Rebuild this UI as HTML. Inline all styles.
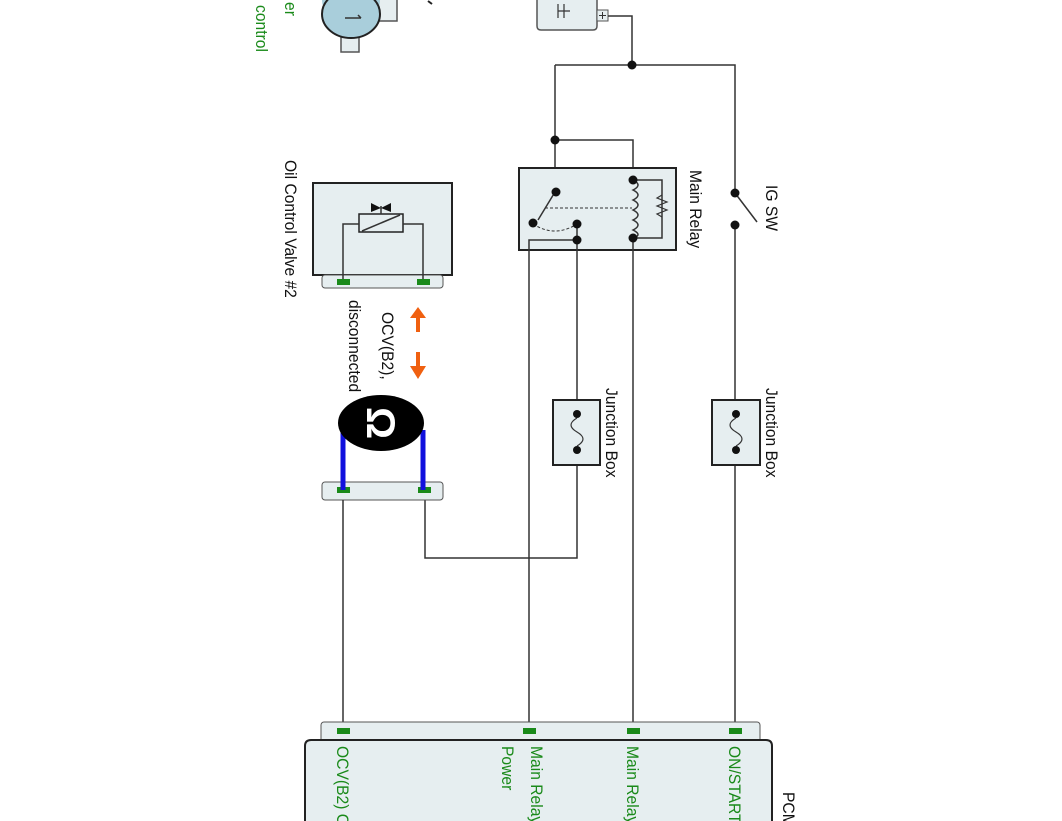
<!DOCTYPE html>
<html><head><meta charset="utf-8"><style>
html,body{margin:0;padding:0;background:#fff;width:1062px;height:821px;overflow:hidden;}
svg{display:block;}
text{font-family:"Liberation Sans",sans-serif;font-size:17px;}
</style></head><body>
<svg width="1062" height="821" viewBox="0 0 1062 821" xmlns="http://www.w3.org/2000/svg" overflow="hidden">
<defs><clipPath id="c"><rect x="0" y="0" width="1062" height="821"/></clipPath></defs>
<g clip-path="url(#c)">
<g stroke="#333" stroke-width="1.5" fill="none">
<path d="M537 0 V26 q0 4 4 4 H593 q4 0 4 -4 V0" fill="#e6eef0" stroke="#555"/>
<path d="M558 4 V18 M564 4 V18 M558 11 H570" stroke="#333" stroke-width="1.2"/>
<rect x="597" y="10" width="11" height="11" fill="#e6eef0" stroke="#555" stroke-width="1"/>
<path d="M599 15.5 H606 M602.5 12 V19" stroke="#333" stroke-width="1"/>
<path d="M608 16 H632 V65"/>
<path d="M555 65 H735 V193"/>
<path d="M555 65 V192"/>
<path d="M555 140 H633 V180"/>
<rect x="519" y="168" width="157" height="82" fill="#e6eef0" stroke="#222" stroke-width="2"/>
<path d="M555 192 L538 220"/>
<path d="M633 180 H662 V238 H633"/>
<path d="M633 180 q10 5 0 10 q10 5 0 10 q10 5 0 10 q10 5 0 10 q10 5 0 10 q10 5 0 8 V238"/>
<path d="M662 195 l-5 3 l10 4 l-10 4 l10 4 l-10 4 l5 3" stroke-width="1.2"/>
<path d="M545 208 H632" stroke-dasharray="3,2" stroke-width="1"/>
<path d="M533 224 Q555 238 577 224" stroke-dasharray="3,2" stroke-width="1"/>
<path d="M529 730 V240 H577 V224"/>
<path d="M633 238 V730"/>
<path d="M577 240 V558 H425 V498"/>
<path d="M735 193 L757 222"/>
<path d="M735 225 V730"/>
<rect x="553" y="400" width="47" height="65" fill="#e6eef0" stroke="#222" stroke-width="2"/>
<rect x="712" y="400" width="48" height="65" fill="#e6eef0" stroke="#222" stroke-width="2"/>
<path d="M577 418 q-12 7 0 14 q12 7 0 14" stroke-width="1.2"/>
<path d="M736 418 q-12 7 0 14 q12 7 0 14" stroke-width="1.2"/>
<rect x="313" y="183" width="139" height="92" fill="#e6eef0" stroke="#222" stroke-width="2"/>
<rect x="322" y="275" width="121" height="13" rx="3" fill="#e6eef0" stroke="#555" stroke-width="1"/>
<rect x="359" y="214" width="44" height="18" fill="#e6eef0" stroke="#222"/>
<path d="M362 231 L400 215"/>
<path d="M359 224 H343 V279 M403 224 H423 V279"/>
<path d="M381 214 V206"/>
<rect x="322" y="482" width="121" height="18" rx="3" fill="#e6eef0" stroke="#555" stroke-width="1"/>
<path d="M343 500 V730"/>
<rect x="321" y="722" width="439" height="22" rx="3" fill="#e6eef0" stroke="#555" stroke-width="1"/>
<path d="M305 821 V746 q0 -6 6 -6 H766 q6 0 6 6 V821 Z" fill="#e6eef0" stroke="none"/>
<path d="M305 821 V746 q0 -6 6 -6 H766 q6 0 6 6 V821" stroke="#222" stroke-width="2"/>
<path d="M324 0 V17 H354 V0" fill="#e6eef0" stroke="#555"/>
<path d="M378 0 V21 H397 V0" fill="#e6eef0" stroke="#555"/>
<rect x="341" y="35" width="18" height="17" fill="#e6eef0" stroke="#555"/>
<path d="M322 0 A29 24 0 0 0 380 0 Z" fill="#a9cedb" stroke="none"/>
<ellipse cx="351" cy="14" rx="29" ry="24" fill="#a9cedb" stroke="#222" stroke-width="2"/>
<path d="M345 18 H361 M361 18 l-3 -3" stroke-width="1.5"/>
</g>
<polygon points="371,203 381,208 391,203 391,212 381,208 371,212" fill="#111"/>
<path d="M428 1 l4 3" stroke="#222" stroke-width="2"/>
<g fill="#111">
<circle cx="632" cy="65" r="4.5"/><circle cx="555" cy="140" r="4.5"/>
<circle cx="556" cy="192" r="4.5"/><circle cx="533" cy="223" r="4.5"/>
<circle cx="577" cy="224" r="4.5"/><circle cx="577" cy="240" r="4.5"/>
<circle cx="633" cy="180" r="4.5"/><circle cx="633" cy="238" r="4.5"/>
<circle cx="735" cy="193" r="4.5"/><circle cx="735" cy="225" r="4.5"/>
<circle cx="577" cy="414" r="4"/><circle cx="577" cy="450" r="4"/>
<circle cx="736" cy="414" r="4"/><circle cx="736" cy="450" r="4"/>
</g>
<g fill="#1a8a1a">
<rect x="337" y="279" width="13" height="6"/><rect x="417" y="279" width="13" height="6"/>
<rect x="337" y="487" width="13" height="6"/><rect x="418" y="487" width="13" height="6"/>
<rect x="337" y="728" width="13" height="6"/><rect x="523" y="728" width="13" height="6"/>
<rect x="627" y="728" width="13" height="6"/><rect x="729" y="728" width="13" height="6"/>
</g>
<path d="M343 430 V490 M423 430 V490" stroke="#1010dd" stroke-width="5"/>
<ellipse cx="381" cy="423" rx="43" ry="28" fill="#000"/>
<text transform="translate(367,423) rotate(90)" fill="#fff" font-weight="bold" text-anchor="middle" style="font-size:40px">Ω</text>
<path d="M418 332 V316" stroke="#f06010" stroke-width="4"/>
<polygon points="410,318 418,307 426,318" fill="#f06010"/>
<path d="M418 352 V368" stroke="#f06010" stroke-width="4"/>
<polygon points="410,366 418,379 426,366" fill="#f06010"/>
<g fill="#111">
<text transform="translate(285,160) rotate(90) scale(0.92,1)">Oil Control Valve #2</text>
<text transform="translate(382,312) rotate(90) scale(0.92,1)">OCV(B2),</text>
<text transform="translate(349,300) rotate(90) scale(0.92,1)">disconnected</text>
<text transform="translate(606,388) rotate(90) scale(0.92,1)">Junction Box</text>
<text transform="translate(766,388) rotate(90) scale(0.92,1)">Junction Box</text>
<text transform="translate(690,170) rotate(90) scale(0.92,1)">Main Relay</text>
<text transform="translate(766,185) rotate(90) scale(0.92,1)">IG SW</text>
<text transform="translate(783,792) rotate(90) scale(0.92,1)">PCM</text>
</g>
<g fill="#1a8a1a">
<text transform="translate(285,2) rotate(90) scale(0.92,1)">er</text>
<text transform="translate(256,5) rotate(90) scale(0.92,1)">control</text>
<text transform="translate(337,746) rotate(90) scale(0.92,1)">OCV(B2) Control</text>
<text transform="translate(531,746) rotate(90) scale(0.92,1)">Main Relay</text>
<text transform="translate(502,746) rotate(90) scale(0.92,1)">Power</text>
<text transform="translate(627,746) rotate(90) scale(0.92,1)">Main Relay</text>
<text transform="translate(729,746) rotate(90) scale(0.92,1)">ON/START</text>
</g>
</g>
</svg>
</body></html>
